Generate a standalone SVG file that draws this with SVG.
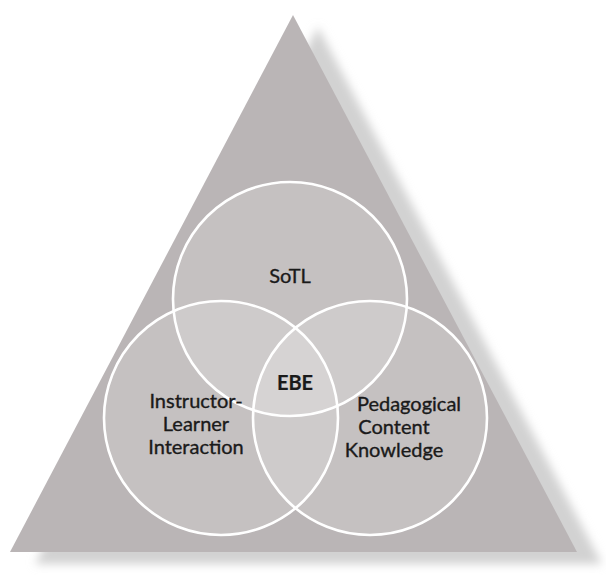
<svg xmlns="http://www.w3.org/2000/svg" width="606" height="575" viewBox="0 0 606 575">
  <defs>
    <filter id="blur" x="-10%" y="-10%" width="120%" height="120%">
      <feGaussianBlur stdDeviation="5"/>
    </filter>
    <style>
      .circle { fill: #ffffff; fill-opacity: 0.16; stroke: #ffffff; stroke-width: 2.6; }
      .lbl { font-family: Lato, "Open Sans", sans-serif; font-size: 20px; fill: #1a1a1a; stroke: #1a1a1a; stroke-width: 0.35; text-anchor: middle; }
      .bold { font-weight: bold; stroke-width: 0.2; }
    </style>
  </defs>
  <rect width="606" height="575" fill="#ffffff"/>
  <g id="triangle">
    <polygon points="318,27 35,564 602,564" fill="#d2d2d2" filter="url(#blur)"/>
    <polygon points="293,15 10,552 577,552" fill="#bab5b6"/>
  </g>
  <g id="sotl">
    <circle class="circle" cx="290" cy="299" r="117"/>
    <text class="lbl" x="290" y="283">SoTL</text>
  </g>
  <g id="instructor-learner">
    <circle class="circle" cx="221" cy="418" r="117"/>
    <text class="lbl" x="196" y="408">Instructor-</text>
    <text class="lbl" x="196" y="431">Learner</text>
    <text class="lbl" x="196" y="454">Interaction</text>
  </g>
  <g id="pck">
    <circle class="circle" cx="370" cy="418" r="117"/>
    <text class="lbl" x="409" y="411">Pedagogical</text>
    <text class="lbl" x="394" y="434">Content</text>
    <text class="lbl" x="394" y="457">Knowledge</text>
  </g>
  <g id="ebe">
    <text class="lbl bold" x="295" y="390">EBE</text>
  </g>
</svg>
